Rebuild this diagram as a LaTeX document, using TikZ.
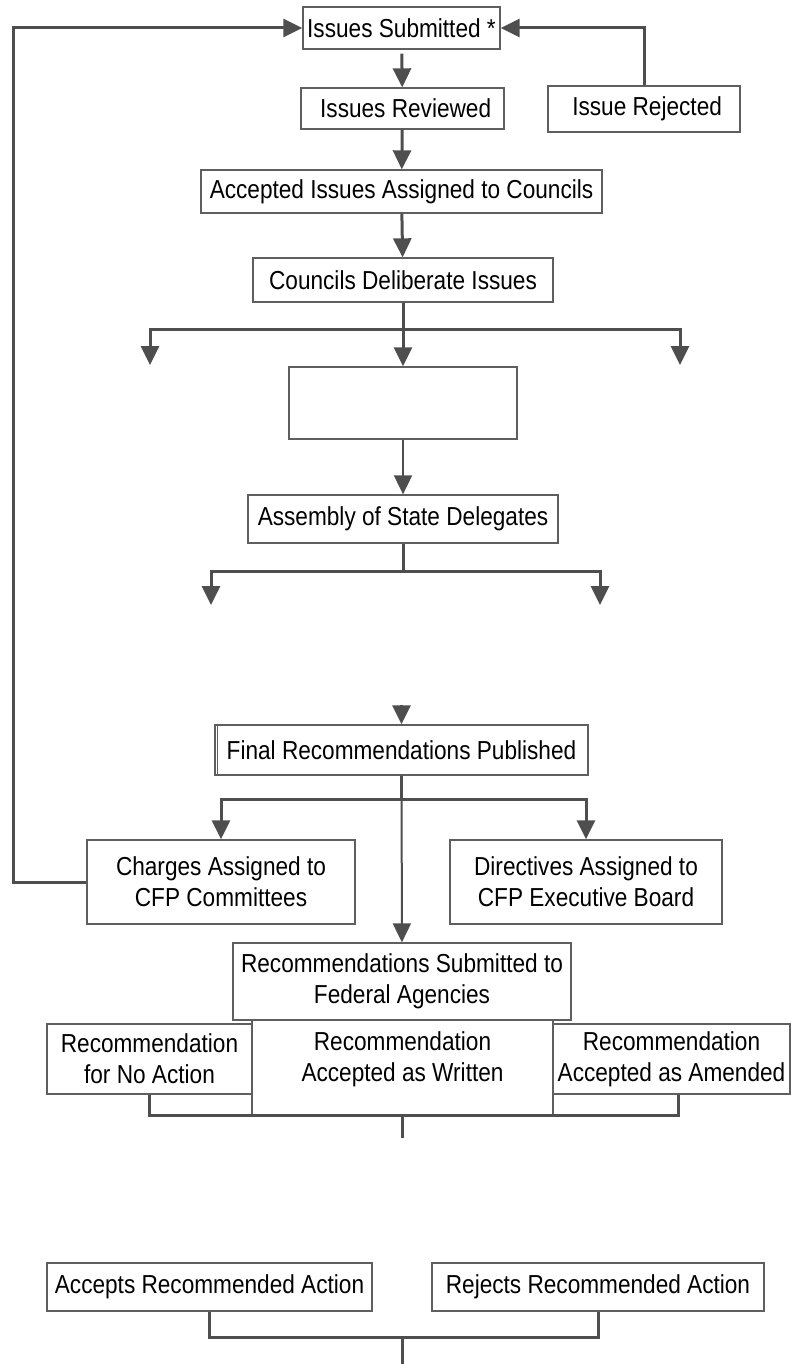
\documentclass[tikz,border=0pt]{standalone}
\usepackage{fontspec}
\setmainfont{Liberation Sans}[FakeStretch=0.87]
\usepackage{tikz}
\usetikzlibrary{calc,positioning,arrows.meta}
\definecolor{linegray}{RGB}{78,78,78}
\definecolor{boxgray}{RGB}{95,95,95}

\begin{document}
\begin{tikzpicture}[x=1pt,y=-1pt,
  box/.style={draw=boxgray, line width=1.3pt, fill=white, inner sep=0pt, align=center, font=\fontsize{26}{31}\selectfont},
  flow/.style={draw=linegray, line width=3pt},
  thinflow/.style={draw=linegray, line width=2pt},
  >={Triangle[length=19pt,width=18pt]}]
  \useasboundingbox (0,0) rectangle (791,1364);

  % intake
  \node[box, minimum width=197, minimum height=42] (sub) at (401.5,28) {Issues Submitted *};
  \node[box, minimum width=203, minimum height=41] (rev) at (402.5,108.5) {\ Issues Reviewed};
  \node[box, minimum width=192, minimum height=46] (rej) at (644,109) {\ Issue Rejected};
  \node[box, minimum width=401, minimum height=43] (acc) at (401.5,191.5) {Accepted Issues Assigned to Councils};
  \draw[flow,->,shorten <=4pt] (sub) -- (rev);
  \draw[flow,->] (rev) -- (acc);
  \draw[flow,->] (rej.north) |- (sub.east);

  % councils
  \node[box, minimum width=300, minimum height=44] (del) at (403,280) {Councils Deliberate Issues};
  \node[box, minimum width=228, minimum height=72] (blank) at (403,403) {};
  \coordinate (dl) at (150,365);
  \coordinate (dr) at (680,365);
  \draw[flow,->] (acc) -- (del);
  \draw[flow,->] (del.south) -- ++(0,27) -| (dl);
  \draw[flow,->] (del.south) -- ++(0,27) -| (dr);
  \draw[flow,->] (del) -- (blank);

  % assembly
  \node[box, minimum width=310, minimum height=48] (asm) at (403,519) {Assembly of State Delegates};
  \coordinate (al) at (211,605);
  \coordinate (ar) at (600,605);
  \draw[thinflow,->] (blank) -- (asm);
  \draw[flow,->] (asm.south) -- ++(0,28) -| (al);
  \draw[flow,->] (asm.south) -- ++(0,28) -| (ar);

  % final recommendations
  \node[box, minimum width=373, minimum height=50] (fin) at (401.5,750) {Final Recommendations Published};
  \draw[boxgray, line width=1pt] ([xshift=3pt]fin.north west) -- ([xshift=3pt]fin.south west);
  \coordinate (finin) at (401.5,705);
  \draw[flow,->] (finin) -- (fin);

  \node[box, minimum width=268, minimum height=84] (chg) at (221,882) {Charges Assigned to\\CFP Committees};
  \node[box, minimum width=272, minimum height=84] (dir) at (586,882) {Directives Assigned to\\CFP Executive Board};
  \node[box, minimum width=338, minimum height=77] (fed) at (402,981.5) {Recommendations Submitted to\\Federal Agencies};
  \draw[flow,->] (fin.south) -- ++(0,24) -| (chg);
  \draw[flow,->] (fin.south) -- ++(0,24) -| (dir);
  \draw[thinflow,->] (fin) -- (fed);
  \draw[flow,->] (chg.west) -- ++(-73,0) |- (sub.west);

  % agency responses
  \node[box, minimum width=301, minimum height=95] (wri) at (402.5,1067.5) {};
  \node[box, draw=none, fill=none] (writ) at (402.5,1059) {Recommendation\\Accepted as Written};
  \node[box, minimum width=205, minimum height=70] (noa) at (149.5,1059) {Recommendation\\for No Action};
  \node[box, minimum width=237, minimum height=70] (amd) at (671.5,1059) {Recommendation\\Accepted as Amended};
  \draw[flow] (noa.south) -- ++(0,21) -| ([xshift=6.5pt]amd.south);
  \draw[flow] (wri.south) -- ++(0,22);

  % final actions
  \node[box, minimum width=325, minimum height=48] (acp) at (209.5,1287) {Accepts Recommended Action};
  \node[box, minimum width=332, minimum height=48] (rjc) at (598,1287) {Rejects Recommended Action};
  \coordinate (bot) at (402,1337);
  \draw[flow] (acp.south) -- ++(0,26) -| (rjc.south);
  \draw[flow] (bot) -- ++(0,27);
\end{tikzpicture}
\end{document}
